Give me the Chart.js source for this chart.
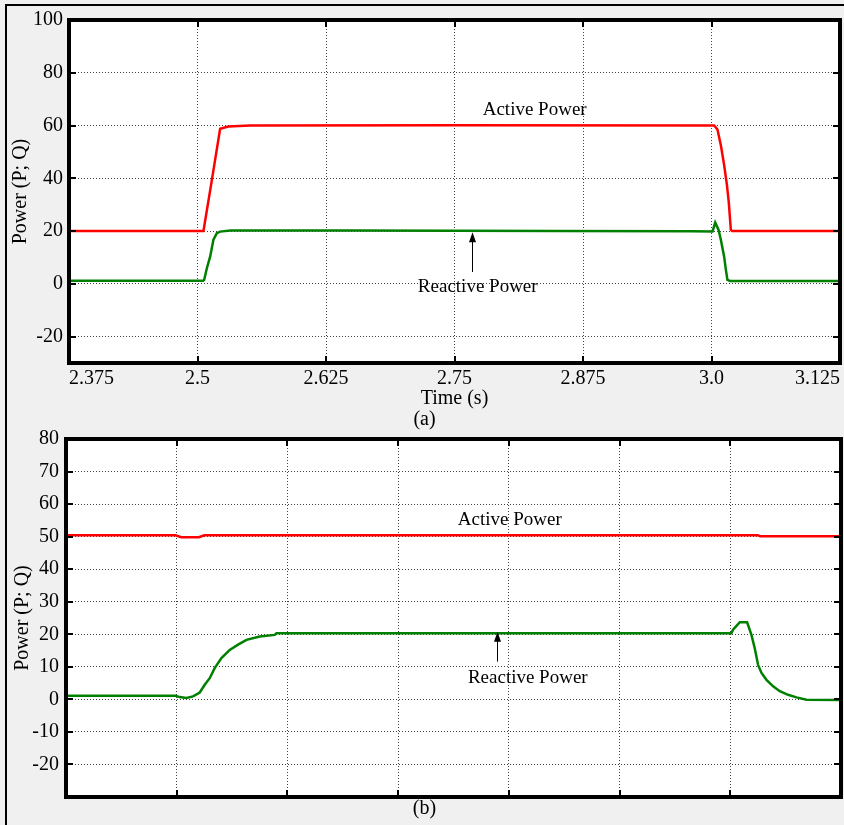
<!DOCTYPE html>
<html><head><meta charset="utf-8">
<script src="https://cdn.jsdelivr.net/npm/chart.js@4.4.1/dist/chart.umd.min.js"></script>
<style>
html,body{margin:0;padding:0;background:#f0f0f0;width:844px;height:825px;overflow:hidden;position:relative;}
#frame{position:absolute;left:5px;top:4px;width:900px;height:900px;border-left:2px solid #000;border-top:2px solid #000;}
canvas{position:absolute;left:0;}
#c1{top:0}
#c2{top:420px}
</style></head><body>
<div id="frame"></div>
<canvas id="c1" width="844" height="432"></canvas>
<canvas id="c2" width="844" height="405"></canvas>
<script>
// ---------- data: panel (a) ----------
const timeTicks = [2.375, 2.5, 2.625, 2.75, 2.875, 3.0, 3.125];
const timeTickLabels = ['2.375', '2.5', '2.625', '2.75', '2.875', '3.0', '3.125'];
const powerTicksA = [-20, 0, 20, 40, 60, 80, 100];

const activeTimeA = [2.375, 2.5058, 2.514, 2.522, 2.530, 2.551, 2.75, 3.0026, 3.0058, 3.0091, 3.0123, 3.0150, 3.0168, 3.0188, 3.020, 3.125];
const activeValA  = [20, 20, 39.4, 58.8, 59.6, 60, 60.1, 60, 58.5, 52.5, 45.0, 37.5, 31, 20.5, 20, 20];

const reactiveTimeA = [2.375, 2.5055, 2.5065, 2.5091, 2.5123, 2.5155, 2.5188, 2.522, 2.532, 2.65, 2.85, 2.98, 3.001, 3.0036, 3.0068, 3.0091, 3.0123, 3.014, 3.0155, 3.018, 3.125];
const reactiveValA  = [1.2, 1.2, 1.5, 5.9, 10.3, 16.7, 19.2, 19.8, 20.2, 20.2, 20.0, 19.9, 19.8, 23.2, 20.5, 16.7, 10.3, 5.3, 1.5, 1.1, 1.1];

// ---------- data: panel (b) ----------
const gridTicksB = [0, 0.1, 0.2, 0.3, 0.4, 0.5, 0.6, 0.7];
const powerTicksB = [-20, -10, 0, 10, 20, 30, 40, 50, 60, 70, 80];

const activeTimeB = [0, 0.099, 0.104, 0.120, 0.125, 0.625, 0.627, 0.7];
const activeValB  = [50.4, 50.4, 49.8, 49.8, 50.4, 50.4, 50.1, 50.1];

const reactiveTimeB = [0, 0.099, 0.1027, 0.1088, 0.1147, 0.1208, 0.1253, 0.1298, 0.1343, 0.1404, 0.1479, 0.1554, 0.1630, 0.1750, 0.1885, 0.1901, 0.601, 0.6025, 0.6086, 0.6152, 0.6191, 0.6221, 0.6251, 0.6282, 0.6327, 0.6387, 0.6447, 0.6522, 0.6598, 0.6688, 0.7];
const reactiveValB  = [1.1, 1.1, 0.7, 0.4, 0.9, 2.1, 4.5, 6.5, 9.6, 12.7, 15.2, 16.8, 18.3, 19.3, 19.8, 20.3, 20.3, 21.4, 23.7, 23.7, 19.8, 15.7, 10.6, 8.1, 6.0, 4.0, 2.5, 1.4, 0.6, -0.1, -0.2];

const seriesNames = ['Active Power', 'Reactive Power'];

// annotations (label text + anchor in data units)
const notesA = [
  {text: 'Active Power', x: 2.828, y: 65.9},
  {text: 'Reactive Power', x: 2.7726, y: -1.2, arrowX: 2.7667, arrowFrom: 4.5, arrowTo: 19.6}
];
const notesB = [
  {text: 'Active Power', x: 0.4008, y: 55.1},
  {text: 'Reactive Power', x: 0.4171, y: 6.7, arrowX: 0.389, arrowFrom: 11.6, arrowTo: 20.8}
];

const zip = (xs, ys) => xs.map((x, i) => ({x, y: ys[i]}));
const FONT = "'Liberation Serif', 'Times New Roman', serif";

const boxPlugin = {
  id: 'box',
  beforeDraw(chart) {
    const {ctx, chartArea: a} = chart;
    ctx.save();
    ctx.fillStyle = '#ffffff';
    ctx.fillRect(a.left, a.top, a.right - a.left, a.bottom - a.top);
    ctx.restore();
  },
  afterDraw(chart, args, opts) {
    const {ctx, chartArea: a, scales: {x, y}} = chart;
    ctx.save();
    ctx.strokeStyle = '#000';
    ctx.lineWidth = 2;
    const L = 7;
    const seg = (x1, y1, x2, y2) => { ctx.beginPath(); ctx.moveTo(x1, y1); ctx.lineTo(x2, y2); ctx.stroke(); };
    x.ticks.forEach(t => {
      const px = Math.round(x.getPixelForValue(t.value));
      if (px <= a.left + 2 || px >= a.right - 2) return;
      seg(px, a.bottom, px, a.bottom - L);
      seg(px, a.top, px, a.top + L);
    });
    y.ticks.forEach(t => {
      const py = Math.round(y.getPixelForValue(t.value));
      if (py <= a.top + 2 || py >= a.bottom - 2) return;
      seg(a.left, py, a.left + L, py);
      seg(a.right, py, a.right - L, py);
    });
    ctx.lineWidth = 4;
    ctx.strokeRect(a.left, a.top, a.right - a.left, a.bottom - a.top);

    // annotations
    ctx.fillStyle = '#000';
    ctx.font = '19px ' + FONT;
    ctx.textAlign = 'center';
    ctx.textBaseline = 'middle';
    (opts.notes || []).forEach(n => {
      ctx.fillText(n.text, x.getPixelForValue(n.x), y.getPixelForValue(n.y));
      if (n.arrowX !== undefined) {
        const ax = Math.round(x.getPixelForValue(n.arrowX)) + 0.5;
        const y1 = y.getPixelForValue(n.arrowFrom);
        const y2 = y.getPixelForValue(n.arrowTo);
        ctx.lineWidth = 1;
        seg(ax, y1, ax, y2 + 8);
        ctx.beginPath();
        ctx.moveTo(ax, y2);
        ctx.lineTo(ax - 3.5, y2 + 10);
        ctx.lineTo(ax + 3.5, y2 + 10);
        ctx.closePath();
        ctx.fill();
      }
    });
    ctx.restore();
  }
};

const gridStyle = {color: 'rgba(0,0,0,0.75)', lineWidth: 1, drawTicks: false};
const dash = {borderDash: [1, 2]};

function makeChart(id, cfg) {
  return new Chart(document.getElementById(id), {
    type: 'line',
    data: {
      datasets: [
        {label: seriesNames[0], data: cfg.active, borderColor: '#ff0000', borderWidth: 2.5, pointRadius: 0, tension: 0, fill: false},
        {label: seriesNames[1], data: cfg.reactive, borderColor: '#008000', borderWidth: 2.5, pointRadius: 0, tension: 0, fill: false}
      ]
    },
    options: {
      responsive: false,
      animation: false,
      devicePixelRatio: 1,
      layout: {padding: cfg.padding},
      plugins: {
        legend: {display: false},
        tooltip: {enabled: false},
        title: {display: true, position: 'bottom', text: cfg.caption, color: '#000',
                font: {family: FONT, size: 20, weight: 'normal', lineHeight: 1.2}, padding: cfg.captionPad},
        box: {notes: cfg.notes}
      },
      scales: {
        x: {
          type: 'linear', min: cfg.xMin, max: cfg.xMax,
          afterBuildTicks: s => { s.ticks = cfg.xTicks.map(v => ({value: v})); },
          afterFit: s => { s.height = cfg.xHeight; },
          grid: Object.assign({}, gridStyle, dash),
          border: {display: false, dash: [1, 2]},
          ticks: {display: cfg.xLabels, autoSkip: false, maxRotation: 0, align: 'inner', padding: 4, color: '#000',
                  font: {family: FONT, size: 20}, callback: (v, i) => timeTickLabels[i]},
          title: {display: cfg.xLabels, text: 'Time (s)', color: '#000', padding: {top: 0, bottom: -3}, font: {family: FONT, size: 20}}
        },
        y: {
          min: cfg.yMin, max: cfg.yMax,
          afterBuildTicks: s => { s.ticks = cfg.yTicks.map(v => ({value: v})); },
          afterFit: s => { s.width = cfg.yWidth; },
          grid: Object.assign({}, gridStyle),
          border: {display: false, dash: [1, 2]},
          ticks: {padding: cfg.yPad, color: '#000', font: {family: FONT, size: 20}},
          title: {display: true, text: 'Power (P; Q)', color: '#000', padding: {top: cfg.yTitlePad, bottom: 0}, font: {family: FONT, size: 20}}
        }
      }
    },
    plugins: [boxPlugin]
  });
}

makeChart('c1', {
  active: zip(activeTimeA, activeValA), reactive: zip(reactiveTimeA, reactiveValA),
  padding: {left: 8, top: 20, right: 3, bottom: 0},
  caption: '(a)', captionPad: {top: 0, bottom: 0},
  notes: notesA,
  xMin: 2.375, xMax: 3.125, xTicks: timeTicks, xHeight: 45, xLabels: true,
  yMin: -30, yMax: 100, yTicks: powerTicksA, yWidth: 61, yPad: 6, yTitlePad: 1
});

makeChart('c2', {
  active: zip(activeTimeB, activeValB), reactive: zip(reactiveTimeB, reactiveValB),
  padding: {left: 8, top: 17, right: 3, bottom: 0},
  caption: '(b)', captionPad: {top: 0, bottom: 4},
  notes: notesB,
  xMin: 0, xMax: 0.7, xTicks: gridTicksB, xHeight: 0, xLabels: false,
  yMin: -30, yMax: 80, yTicks: powerTicksB, yWidth: 58, yPad: 7, yTitlePad: 3
});
</script>
</body></html>
